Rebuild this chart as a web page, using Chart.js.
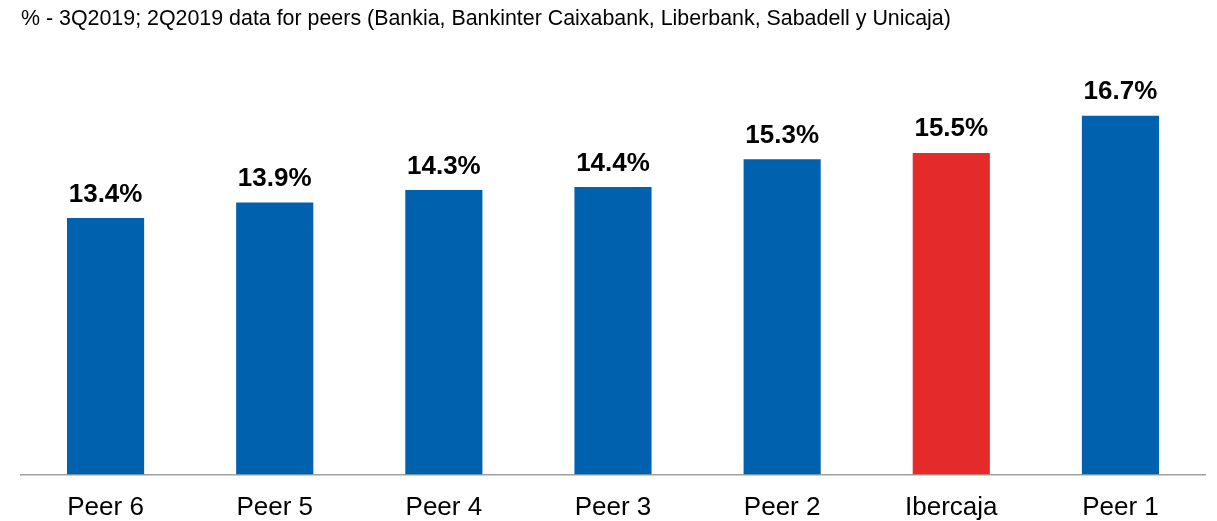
<!DOCTYPE html>
<html>
<head>
<meta charset="utf-8">
<script src="https://cdn.jsdelivr.net/npm/chart.js@4"></script>
<style>
  html, body { margin: 0; padding: 0; background: #ffffff; }
  #wrap { width: 1217px; height: 521px; position: relative; }
</style>
</head>
<body>
<div id="wrap"><canvas id="c" width="1217" height="521"></canvas></div>
<script>
const titleText = '% - 3Q2019; 2Q2019 data for peers (Bankia, Bankinter Caixabank, Liberbank, Sabadell y Unicaja)';
const categories = ['Peer 6', 'Peer 5', 'Peer 4', 'Peer 3', 'Peer 2', 'Ibercaja', 'Peer 1'];
const values = [13.4, 13.9, 14.3, 14.4, 15.3, 15.5, 16.7];
const highlight = 'Ibercaja';

const BLUE = '#0061AE';
const RED = '#E52A2A';
const FONT = "'Liberation Sans', Arial, Helvetica, sans-serif";

const valueLabels = {
  id: 'valueLabels',
  afterDatasetsDraw(chart) {
    const ctx = chart.ctx;
    const meta = chart.getDatasetMeta(0);
    ctx.save();
    ctx.font = 'bold 26px ' + FONT;
    ctx.fillStyle = '#000000';
    ctx.textAlign = 'center';
    ctx.textBaseline = 'alphabetic';
    meta.data.forEach((bar, i) => {
      const v = chart.data.datasets[0].data[i];
      ctx.fillText(v.toFixed(1) + '%', bar.x, bar.y - 16.5);
    });
    ctx.restore();
  }
};

new Chart(document.getElementById('c'), {
  type: 'bar',
  data: {
    labels: categories,
    datasets: [{
      data: values,
      backgroundColor: categories.map(c => c === highlight ? RED : BLUE),
      borderWidth: 0,
      categoryPercentage: 1,
      barPercentage: 0.456
    }]
  },
  options: {
    responsive: false,
    animation: false,
    devicePixelRatio: 1,
    layout: { padding: { left: 21, right: 12, top: 0, bottom: -21 } },
    plugins: {
      legend: { display: false },
      tooltip: { enabled: false },
      title: {
        display: true,
        text: titleText,
        align: 'start',
        color: '#000000',
        font: { family: FONT, size: 21.4, weight: 'normal' },
        padding: { top: 6, bottom: 10 }
      }
    },
    scales: {
      x: {
        grid: { display: false, drawTicks: false },
        border: { display: true, color: '#A0A0A0', width: 1.5 },
        ticks: { color: '#000000', font: { family: FONT, size: 26, lineHeight: 1.45 }, padding: 15, maxRotation: 0, autoSkip: false }
      },
      y: {
        display: false,
        min: 5.13,
        max: 19.09
      }
    }
  },
  plugins: [valueLabels]
});
</script>
</body>
</html>
